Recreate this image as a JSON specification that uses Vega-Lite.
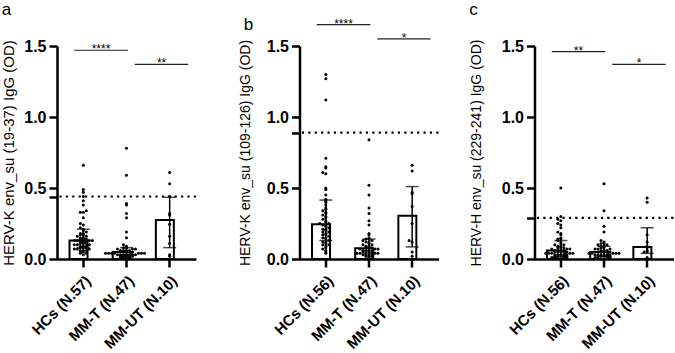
{
  "$schema": "https://vega.github.io/schema/vega-lite/v6.json",
  "padding": {"left": 1, "top": 0, "right": 0, "bottom": 0},
  "background": "white",
  "config": {
    "font": "Liberation Sans",
    "view": {"stroke": null},
    "axis": {"domainColor": "black", "domainWidth": 2.5, "tickColor": "black", "tickWidth": 2.5, "tickSize": 8, "labelColor": "black", "labelFont": "Liberation Sans", "labelFontWeight": "bold", "grid": false, "titleColor": "black", "titleFont": "Liberation Sans", "titleFontWeight": "normal"},
    "axisY": {"labelFontSize": 16, "labelPadding": 3, "titleFontSize": 14},
    "axisX": {"labelFontSize": 15, "labelAngle": -45, "labelPadding": 6, "title": null},
    "title": {"font": "Liberation Sans", "fontSize": 17, "fontWeight": "normal", "color": "black", "anchor": "start", "frame": "bounds"}
  },
  "datasets": {
    "summary": [
      {"p": "a", "g": "HCs (N.57)", "median": 0.13, "q1": 0.08, "q3": 0.21},
      {"p": "a", "g": "MM-T (N.47)", "median": 0.05, "q1": 0.03, "q3": 0.08},
      {"p": "a", "g": "MM-UT (N.10)", "median": 0.275, "q1": 0.08, "q3": 0.435},
      {"p": "b", "g": "HCs (N.56)", "median": 0.245, "q1": 0.13, "q3": 0.415},
      {"p": "b", "g": "MM-T (N.47)", "median": 0.075, "q1": 0.04, "q3": 0.14},
      {"p": "b", "g": "MM-UT (N.10)", "median": 0.305, "q1": 0.085, "q3": 0.51},
      {"p": "c", "g": "HCs (N.56)", "median": 0.06, "q1": 0.03, "q3": 0.13},
      {"p": "c", "g": "MM-T (N.47)", "median": 0.05, "q1": 0.02, "q3": 0.09},
      {"p": "c", "g": "MM-UT (N.10)", "median": 0.085, "q1": 0.04, "q3": 0.22}
    ],
    "cutoff": [
      {"p": "a", "t": 0.44},
      {"p": "b", "t": 0.89},
      {"p": "c", "t": 0.29}
    ],
    "sig": [
      {"p": "a", "n": 1, "from": "HCs (N.57)", "to": "MM-T (N.47)", "y": 1.47, "s": "****"},
      {"p": "a", "n": 2, "from": "MM-T (N.47)", "to": "MM-UT (N.10)", "y": 1.37, "s": "**"},
      {"p": "b", "n": 1, "from": "HCs (N.56)", "to": "MM-T (N.47)", "y": 1.65, "s": "****"},
      {"p": "b", "n": 2, "from": "MM-T (N.47)", "to": "MM-UT (N.10)", "y": 1.55, "s": "*"},
      {"p": "c", "n": 1, "from": "HCs (N.56)", "to": "MM-T (N.47)", "y": 1.46, "s": "**"},
      {"p": "c", "n": 2, "from": "MM-T (N.47)", "to": "MM-UT (N.10)", "y": 1.37, "s": "*"}
    ],
    "pts": [
      {"p":"a","g":"HCs (N.57)","v":0.66},{"p":"a","g":"HCs (N.57)","v":0.49},{"p":"a","g":"HCs (N.57)","v":0.47},{"p":"a","g":"HCs (N.57)","v":0.44},{"p":"a","g":"HCs (N.57)","v":0.41},{"p":"a","g":"HCs (N.57)","v":0.38},{"p":"a","g":"HCs (N.57)","v":0.34},{"p":"a","g":"HCs (N.57)","v":0.33},{"p":"a","g":"HCs (N.57)","v":0.33},{"p":"a","g":"HCs (N.57)","v":0.29},
      {"p":"a","g":"HCs (N.57)","v":0.25},{"p":"a","g":"HCs (N.57)","v":0.24},{"p":"a","g":"HCs (N.57)","v":0.22},{"p":"a","g":"HCs (N.57)","v":0.21},{"p":"a","g":"HCs (N.57)","v":0.20},{"p":"a","g":"HCs (N.57)","v":0.19},{"p":"a","g":"HCs (N.57)","v":0.18},{"p":"a","g":"HCs (N.57)","v":0.18},{"p":"a","g":"HCs (N.57)","v":0.17},{"p":"a","g":"HCs (N.57)","v":0.17},
      {"p":"a","g":"HCs (N.57)","v":0.16},{"p":"a","g":"HCs (N.57)","v":0.16},{"p":"a","g":"HCs (N.57)","v":0.15},{"p":"a","g":"HCs (N.57)","v":0.15},{"p":"a","g":"HCs (N.57)","v":0.14},{"p":"a","g":"HCs (N.57)","v":0.14},{"p":"a","g":"HCs (N.57)","v":0.14},{"p":"a","g":"HCs (N.57)","v":0.13},{"p":"a","g":"HCs (N.57)","v":0.13},{"p":"a","g":"HCs (N.57)","v":0.13},
      {"p":"a","g":"HCs (N.57)","v":0.13},{"p":"a","g":"HCs (N.57)","v":0.12},{"p":"a","g":"HCs (N.57)","v":0.12},{"p":"a","g":"HCs (N.57)","v":0.12},{"p":"a","g":"HCs (N.57)","v":0.11},{"p":"a","g":"HCs (N.57)","v":0.11},{"p":"a","g":"HCs (N.57)","v":0.11},{"p":"a","g":"HCs (N.57)","v":0.10},{"p":"a","g":"HCs (N.57)","v":0.10},{"p":"a","g":"HCs (N.57)","v":0.10},
      {"p":"a","g":"HCs (N.57)","v":0.09},{"p":"a","g":"HCs (N.57)","v":0.09},{"p":"a","g":"HCs (N.57)","v":0.09},{"p":"a","g":"HCs (N.57)","v":0.08},{"p":"a","g":"HCs (N.57)","v":0.08},{"p":"a","g":"HCs (N.57)","v":0.08},{"p":"a","g":"HCs (N.57)","v":0.07},{"p":"a","g":"HCs (N.57)","v":0.07},{"p":"a","g":"HCs (N.57)","v":0.07},{"p":"a","g":"HCs (N.57)","v":0.06},
      {"p":"a","g":"HCs (N.57)","v":0.06},{"p":"a","g":"HCs (N.57)","v":0.06},{"p":"a","g":"HCs (N.57)","v":0.05},{"p":"a","g":"HCs (N.57)","v":0.05},{"p":"a","g":"HCs (N.57)","v":0.04},{"p":"a","g":"HCs (N.57)","v":0.04},{"p":"a","g":"HCs (N.57)","v":0.03},

      {"p":"a","g":"MM-T (N.47)","v":0.78},{"p":"a","g":"MM-T (N.47)","v":0.59},{"p":"a","g":"MM-T (N.47)","v":0.39},{"p":"a","g":"MM-T (N.47)","v":0.38},{"p":"a","g":"MM-T (N.47)","v":0.32},{"p":"a","g":"MM-T (N.47)","v":0.29},{"p":"a","g":"MM-T (N.47)","v":0.19},{"p":"a","g":"MM-T (N.47)","v":0.15},{"p":"a","g":"MM-T (N.47)","v":0.10},{"p":"a","g":"MM-T (N.47)","v":0.09},
      {"p":"a","g":"MM-T (N.47)","v":0.08},{"p":"a","g":"MM-T (N.47)","v":0.08},{"p":"a","g":"MM-T (N.47)","v":0.07},{"p":"a","g":"MM-T (N.47)","v":0.07},{"p":"a","g":"MM-T (N.47)","v":0.07},{"p":"a","g":"MM-T (N.47)","v":0.06},{"p":"a","g":"MM-T (N.47)","v":0.06},{"p":"a","g":"MM-T (N.47)","v":0.06},{"p":"a","g":"MM-T (N.47)","v":0.06},{"p":"a","g":"MM-T (N.47)","v":0.05},
      {"p":"a","g":"MM-T (N.47)","v":0.05},{"p":"a","g":"MM-T (N.47)","v":0.05},{"p":"a","g":"MM-T (N.47)","v":0.05},{"p":"a","g":"MM-T (N.47)","v":0.05},{"p":"a","g":"MM-T (N.47)","v":0.04},{"p":"a","g":"MM-T (N.47)","v":0.04},{"p":"a","g":"MM-T (N.47)","v":0.04},{"p":"a","g":"MM-T (N.47)","v":0.04},{"p":"a","g":"MM-T (N.47)","v":0.04},{"p":"a","g":"MM-T (N.47)","v":0.04},
      {"p":"a","g":"MM-T (N.47)","v":0.04},{"p":"a","g":"MM-T (N.47)","v":0.03},{"p":"a","g":"MM-T (N.47)","v":0.03},{"p":"a","g":"MM-T (N.47)","v":0.03},{"p":"a","g":"MM-T (N.47)","v":0.03},{"p":"a","g":"MM-T (N.47)","v":0.03},{"p":"a","g":"MM-T (N.47)","v":0.03},{"p":"a","g":"MM-T (N.47)","v":0.03},{"p":"a","g":"MM-T (N.47)","v":0.02},{"p":"a","g":"MM-T (N.47)","v":0.02},
      {"p":"a","g":"MM-T (N.47)","v":0.02},{"p":"a","g":"MM-T (N.47)","v":0.02},{"p":"a","g":"MM-T (N.47)","v":0.02},{"p":"a","g":"MM-T (N.47)","v":0.01},{"p":"a","g":"MM-T (N.47)","v":0.01},{"p":"a","g":"MM-T (N.47)","v":0.01},{"p":"a","g":"MM-T (N.47)","v":0.01},

      {"p":"a","g":"MM-UT (N.10)","v":0.61},{"p":"a","g":"MM-UT (N.10)","v":0.53},{"p":"a","g":"MM-UT (N.10)","v":0.44},{"p":"a","g":"MM-UT (N.10)","v":0.32},{"p":"a","g":"MM-UT (N.10)","v":0.31},{"p":"a","g":"MM-UT (N.10)","v":0.245},{"p":"a","g":"MM-UT (N.10)","v":0.16},{"p":"a","g":"MM-UT (N.10)","v":0.11},{"p":"a","g":"MM-UT (N.10)","v":0.03},{"p":"a","g":"MM-UT (N.10)","v":0.02},

      {"p":"b","g":"HCs (N.56)","v":1.30},{"p":"b","g":"HCs (N.56)","v":1.27},{"p":"b","g":"HCs (N.56)","v":1.12},{"p":"b","g":"HCs (N.56)","v":0.45},{"p":"b","g":"HCs (N.56)","v":0.71},{"p":"b","g":"HCs (N.56)","v":0.65},{"p":"b","g":"HCs (N.56)","v":0.64},{"p":"b","g":"HCs (N.56)","v":0.61},{"p":"b","g":"HCs (N.56)","v":0.60},{"p":"b","g":"HCs (N.56)","v":0.50},
      {"p":"b","g":"HCs (N.56)","v":0.49},{"p":"b","g":"HCs (N.56)","v":0.42},{"p":"b","g":"HCs (N.56)","v":0.41},{"p":"b","g":"HCs (N.56)","v":0.40},{"p":"b","g":"HCs (N.56)","v":0.38},{"p":"b","g":"HCs (N.56)","v":0.36},{"p":"b","g":"HCs (N.56)","v":0.35},{"p":"b","g":"HCs (N.56)","v":0.34},{"p":"b","g":"HCs (N.56)","v":0.33},{"p":"b","g":"HCs (N.56)","v":0.32},
      {"p":"b","g":"HCs (N.56)","v":0.31},{"p":"b","g":"HCs (N.56)","v":0.30},{"p":"b","g":"HCs (N.56)","v":0.29},{"p":"b","g":"HCs (N.56)","v":0.28},{"p":"b","g":"HCs (N.56)","v":0.27},{"p":"b","g":"HCs (N.56)","v":0.26},{"p":"b","g":"HCs (N.56)","v":0.25},{"p":"b","g":"HCs (N.56)","v":0.25},{"p":"b","g":"HCs (N.56)","v":0.24},{"p":"b","g":"HCs (N.56)","v":0.24},
      {"p":"b","g":"HCs (N.56)","v":0.23},{"p":"b","g":"HCs (N.56)","v":0.22},{"p":"b","g":"HCs (N.56)","v":0.21},{"p":"b","g":"HCs (N.56)","v":0.21},{"p":"b","g":"HCs (N.56)","v":0.20},{"p":"b","g":"HCs (N.56)","v":0.19},{"p":"b","g":"HCs (N.56)","v":0.19},{"p":"b","g":"HCs (N.56)","v":0.18},{"p":"b","g":"HCs (N.56)","v":0.17},{"p":"b","g":"HCs (N.56)","v":0.17},
      {"p":"b","g":"HCs (N.56)","v":0.16},{"p":"b","g":"HCs (N.56)","v":0.15},{"p":"b","g":"HCs (N.56)","v":0.15},{"p":"b","g":"HCs (N.56)","v":0.14},{"p":"b","g":"HCs (N.56)","v":0.13},{"p":"b","g":"HCs (N.56)","v":0.12},{"p":"b","g":"HCs (N.56)","v":0.12},{"p":"b","g":"HCs (N.56)","v":0.11},{"p":"b","g":"HCs (N.56)","v":0.10},{"p":"b","g":"HCs (N.56)","v":0.10},
      {"p":"b","g":"HCs (N.56)","v":0.09},{"p":"b","g":"HCs (N.56)","v":0.08},{"p":"b","g":"HCs (N.56)","v":0.07},{"p":"b","g":"HCs (N.56)","v":0.06},{"p":"b","g":"HCs (N.56)","v":0.05},{"p":"b","g":"HCs (N.56)","v":0.04},

      {"p":"b","g":"MM-T (N.47)","v":0.84},{"p":"b","g":"MM-T (N.47)","v":0.52},{"p":"b","g":"MM-T (N.47)","v":0.45},{"p":"b","g":"MM-T (N.47)","v":0.36},{"p":"b","g":"MM-T (N.47)","v":0.32},{"p":"b","g":"MM-T (N.47)","v":0.27},{"p":"b","g":"MM-T (N.47)","v":0.24},{"p":"b","g":"MM-T (N.47)","v":0.18},{"p":"b","g":"MM-T (N.47)","v":0.17},{"p":"b","g":"MM-T (N.47)","v":0.15},
      {"p":"b","g":"MM-T (N.47)","v":0.14},{"p":"b","g":"MM-T (N.47)","v":0.14},{"p":"b","g":"MM-T (N.47)","v":0.13},{"p":"b","g":"MM-T (N.47)","v":0.13},{"p":"b","g":"MM-T (N.47)","v":0.12},{"p":"b","g":"MM-T (N.47)","v":0.12},{"p":"b","g":"MM-T (N.47)","v":0.11},{"p":"b","g":"MM-T (N.47)","v":0.10},{"p":"b","g":"MM-T (N.47)","v":0.10},{"p":"b","g":"MM-T (N.47)","v":0.09},
      {"p":"b","g":"MM-T (N.47)","v":0.09},{"p":"b","g":"MM-T (N.47)","v":0.08},{"p":"b","g":"MM-T (N.47)","v":0.08},{"p":"b","g":"MM-T (N.47)","v":0.08},{"p":"b","g":"MM-T (N.47)","v":0.07},{"p":"b","g":"MM-T (N.47)","v":0.07},{"p":"b","g":"MM-T (N.47)","v":0.07},{"p":"b","g":"MM-T (N.47)","v":0.06},{"p":"b","g":"MM-T (N.47)","v":0.06},{"p":"b","g":"MM-T (N.47)","v":0.06},
      {"p":"b","g":"MM-T (N.47)","v":0.06},{"p":"b","g":"MM-T (N.47)","v":0.05},{"p":"b","g":"MM-T (N.47)","v":0.05},{"p":"b","g":"MM-T (N.47)","v":0.05},{"p":"b","g":"MM-T (N.47)","v":0.05},{"p":"b","g":"MM-T (N.47)","v":0.04},{"p":"b","g":"MM-T (N.47)","v":0.04},{"p":"b","g":"MM-T (N.47)","v":0.04},{"p":"b","g":"MM-T (N.47)","v":0.04},{"p":"b","g":"MM-T (N.47)","v":0.03},
      {"p":"b","g":"MM-T (N.47)","v":0.03},{"p":"b","g":"MM-T (N.47)","v":0.03},{"p":"b","g":"MM-T (N.47)","v":0.03},{"p":"b","g":"MM-T (N.47)","v":0.02},{"p":"b","g":"MM-T (N.47)","v":0.02},{"p":"b","g":"MM-T (N.47)","v":0.02},{"p":"b","g":"MM-T (N.47)","v":0.01},

      {"p":"b","g":"MM-UT (N.10)","v":0.66},{"p":"b","g":"MM-UT (N.10)","v":0.62},{"p":"b","g":"MM-UT (N.10)","v":0.47},{"p":"b","g":"MM-UT (N.10)","v":0.46},{"p":"b","g":"MM-UT (N.10)","v":0.37},{"p":"b","g":"MM-UT (N.10)","v":0.25},{"p":"b","g":"MM-UT (N.10)","v":0.13},{"p":"b","g":"MM-UT (N.10)","v":0.12},{"p":"b","g":"MM-UT (N.10)","v":0.05},{"p":"b","g":"MM-UT (N.10)","v":0.02},

      {"p":"c","g":"HCs (N.56)","v":0.50},{"p":"c","g":"HCs (N.56)","v":0.30},{"p":"c","g":"HCs (N.56)","v":0.28},{"p":"c","g":"HCs (N.56)","v":0.27},{"p":"c","g":"HCs (N.56)","v":0.25},{"p":"c","g":"HCs (N.56)","v":0.24},{"p":"c","g":"HCs (N.56)","v":0.22},{"p":"c","g":"HCs (N.56)","v":0.19},{"p":"c","g":"HCs (N.56)","v":0.18},{"p":"c","g":"HCs (N.56)","v":0.17},
      {"p":"c","g":"HCs (N.56)","v":0.15},{"p":"c","g":"HCs (N.56)","v":0.14},{"p":"c","g":"HCs (N.56)","v":0.14},{"p":"c","g":"HCs (N.56)","v":0.13},{"p":"c","g":"HCs (N.56)","v":0.12},{"p":"c","g":"HCs (N.56)","v":0.11},{"p":"c","g":"HCs (N.56)","v":0.10},{"p":"c","g":"HCs (N.56)","v":0.10},{"p":"c","g":"HCs (N.56)","v":0.09},{"p":"c","g":"HCs (N.56)","v":0.09},
      {"p":"c","g":"HCs (N.56)","v":0.08},{"p":"c","g":"HCs (N.56)","v":0.08},{"p":"c","g":"HCs (N.56)","v":0.08},{"p":"c","g":"HCs (N.56)","v":0.07},{"p":"c","g":"HCs (N.56)","v":0.07},{"p":"c","g":"HCs (N.56)","v":0.07},{"p":"c","g":"HCs (N.56)","v":0.06},{"p":"c","g":"HCs (N.56)","v":0.06},{"p":"c","g":"HCs (N.56)","v":0.06},{"p":"c","g":"HCs (N.56)","v":0.06},
      {"p":"c","g":"HCs (N.56)","v":0.05},{"p":"c","g":"HCs (N.56)","v":0.05},{"p":"c","g":"HCs (N.56)","v":0.05},{"p":"c","g":"HCs (N.56)","v":0.05},{"p":"c","g":"HCs (N.56)","v":0.05},{"p":"c","g":"HCs (N.56)","v":0.04},{"p":"c","g":"HCs (N.56)","v":0.04},{"p":"c","g":"HCs (N.56)","v":0.04},{"p":"c","g":"HCs (N.56)","v":0.04},{"p":"c","g":"HCs (N.56)","v":0.04},
      {"p":"c","g":"HCs (N.56)","v":0.03},{"p":"c","g":"HCs (N.56)","v":0.03},{"p":"c","g":"HCs (N.56)","v":0.03},{"p":"c","g":"HCs (N.56)","v":0.03},{"p":"c","g":"HCs (N.56)","v":0.03},{"p":"c","g":"HCs (N.56)","v":0.02},{"p":"c","g":"HCs (N.56)","v":0.02},{"p":"c","g":"HCs (N.56)","v":0.02},{"p":"c","g":"HCs (N.56)","v":0.02},{"p":"c","g":"HCs (N.56)","v":0.02},
      {"p":"c","g":"HCs (N.56)","v":0.01},{"p":"c","g":"HCs (N.56)","v":0.01},{"p":"c","g":"HCs (N.56)","v":0.01},{"p":"c","g":"HCs (N.56)","v":0.01},{"p":"c","g":"HCs (N.56)","v":0.01},{"p":"c","g":"HCs (N.56)","v":0.00},

      {"p":"c","g":"MM-T (N.47)","v":0.53},{"p":"c","g":"MM-T (N.47)","v":0.34},{"p":"c","g":"MM-T (N.47)","v":0.23},{"p":"c","g":"MM-T (N.47)","v":0.19},{"p":"c","g":"MM-T (N.47)","v":0.13},{"p":"c","g":"MM-T (N.47)","v":0.12},{"p":"c","g":"MM-T (N.47)","v":0.11},{"p":"c","g":"MM-T (N.47)","v":0.11},{"p":"c","g":"MM-T (N.47)","v":0.10},{"p":"c","g":"MM-T (N.47)","v":0.10},
      {"p":"c","g":"MM-T (N.47)","v":0.09},{"p":"c","g":"MM-T (N.47)","v":0.09},{"p":"c","g":"MM-T (N.47)","v":0.08},{"p":"c","g":"MM-T (N.47)","v":0.08},{"p":"c","g":"MM-T (N.47)","v":0.07},{"p":"c","g":"MM-T (N.47)","v":0.07},{"p":"c","g":"MM-T (N.47)","v":0.07},{"p":"c","g":"MM-T (N.47)","v":0.06},{"p":"c","g":"MM-T (N.47)","v":0.06},{"p":"c","g":"MM-T (N.47)","v":0.06},
      {"p":"c","g":"MM-T (N.47)","v":0.05},{"p":"c","g":"MM-T (N.47)","v":0.05},{"p":"c","g":"MM-T (N.47)","v":0.05},{"p":"c","g":"MM-T (N.47)","v":0.05},{"p":"c","g":"MM-T (N.47)","v":0.05},{"p":"c","g":"MM-T (N.47)","v":0.04},{"p":"c","g":"MM-T (N.47)","v":0.04},{"p":"c","g":"MM-T (N.47)","v":0.04},{"p":"c","g":"MM-T (N.47)","v":0.04},{"p":"c","g":"MM-T (N.47)","v":0.04},
      {"p":"c","g":"MM-T (N.47)","v":0.03},{"p":"c","g":"MM-T (N.47)","v":0.03},{"p":"c","g":"MM-T (N.47)","v":0.03},{"p":"c","g":"MM-T (N.47)","v":0.03},{"p":"c","g":"MM-T (N.47)","v":0.03},{"p":"c","g":"MM-T (N.47)","v":0.03},{"p":"c","g":"MM-T (N.47)","v":0.02},{"p":"c","g":"MM-T (N.47)","v":0.02},{"p":"c","g":"MM-T (N.47)","v":0.02},{"p":"c","g":"MM-T (N.47)","v":0.02},
      {"p":"c","g":"MM-T (N.47)","v":0.02},{"p":"c","g":"MM-T (N.47)","v":0.01},{"p":"c","g":"MM-T (N.47)","v":0.01},{"p":"c","g":"MM-T (N.47)","v":0.01},{"p":"c","g":"MM-T (N.47)","v":0.01},{"p":"c","g":"MM-T (N.47)","v":0.00},{"p":"c","g":"MM-T (N.47)","v":0.00},

      {"p":"c","g":"MM-UT (N.10)","v":0.43},{"p":"c","g":"MM-UT (N.10)","v":0.40},{"p":"c","g":"MM-UT (N.10)","v":0.17},{"p":"c","g":"MM-UT (N.10)","v":0.12},{"p":"c","g":"MM-UT (N.10)","v":0.09},{"p":"c","g":"MM-UT (N.10)","v":0.08},{"p":"c","g":"MM-UT (N.10)","v":0.06},{"p":"c","g":"MM-UT (N.10)","v":0.05},{"p":"c","g":"MM-UT (N.10)","v":0.05},{"p":"c","g":"MM-UT (N.10)","v":0.01}
    ]
  },
  "spacing": 40.5,
  "hconcat": [
    {
      "width": 139, "height": 213,
      "title": {"text": "a", "offset": 19.5},
      "layer": [
        {
          "data": {"name": "summary"},
          "transform": [{"filter": "datum.p === 'a'"}],
          "mark": {"type": "bar", "fill": "white", "stroke": "black", "strokeWidth": 2},
          "encoding": {
            "x": {"field": "g", "type": "nominal", "scale": {"domain": ["HCs (N.57)", "MM-T (N.47)", "MM-UT (N.10)"], "paddingInner": 0.36, "paddingOuter": 0.29}},
            "y": {"field": "median", "type": "quantitative", "scale": {"domain": [0, 1.5], "nice": false},
                  "axis": {"title": "HERV-K env_su (19-37) IgG (OD)", "titleFontSize": 15, "titlePadding": 7, "values": [0, 0.44, 0.5, 1, 1.5], "labelExpr": "datum.value === 0.44 ? '' : format(datum.value, '.1f')"}}
          }
        },
        {
          "data": {"name": "pts"},
          "transform": [
            {"filter": "datum.p === 'a'"},
            {"bin": {"step": 0.015, "extent": [0, 1.5]}, "field": "v", "as": "vb"},
            {"window": [{"op": "row_number", "as": "k"}], "groupby": ["g", "vb"], "sort": [{"field": "v"}]},
            {"calculate": "(datum.k % 2 === 0 ? -1 : 1) * floor(datum.k / 2)", "as": "lane"}
          ],
          "mark": {"type": "circle", "size": 9, "color": "black", "opacity": 1},
          "encoding": {
            "x": {"field": "g", "type": "nominal"},
            "xOffset": {"field": "lane", "type": "quantitative", "scale": {"domain": [-5, 5], "range": [-1.2, 28.8]}},
            "y": {"field": "v", "type": "quantitative"}
          }
        },
        {
          "data": {"name": "summary"},
          "transform": [{"filter": "datum.p === 'a'"}],
          "mark": {"type": "rule", "color": "black", "strokeWidth": 1.5},
          "encoding": {"x": {"field": "g", "type": "nominal"}, "y": {"field": "q1", "type": "quantitative"}, "y2": {"field": "q3"}}
        },
        {
          "data": {"name": "summary"},
          "transform": [{"filter": "datum.p === 'a'"}, {"fold": ["q1", "q3"], "as": ["k", "val"]}],
          "mark": {"type": "tick", "color": "black", "size": 13, "thickness": 1.5, "orient": "horizontal"},
          "encoding": {"x": {"field": "g", "type": "nominal"}, "y": {"field": "val", "type": "quantitative"}}
        },
        {
          "data": {"name": "cutoff"},
          "transform": [{"filter": "datum.p === 'a'"}],
          "mark": {"type": "rule", "color": "black", "strokeWidth": 2.2, "strokeDash": [2.2, 4.2]},
          "encoding": {"y": {"field": "t", "type": "quantitative"}}
        },
        {
          "data": {"name": "sig"},
          "transform": [{"filter": "datum.p === 'a' && datum.n === 1"}],
          "mark": {"type": "rule", "color": "#222", "strokeWidth": 1.2},
          "encoding": {"x": {"field": "from", "type": "nominal", "bandPosition": 0.17}, "x2": {"field": "to", "bandPosition": 0.55}, "y": {"field": "y", "type": "quantitative"}}
        },
        {
          "data": {"name": "sig"},
          "transform": [{"filter": "datum.p === 'a' && datum.n === 2"}],
          "mark": {"type": "rule", "color": "#222", "strokeWidth": 1.2},
          "encoding": {"x": {"field": "from", "type": "nominal", "bandPosition": 0.8}, "x2": {"field": "to", "bandPosition": 1.17}, "y": {"field": "y", "type": "quantitative"}}
        },
        {
          "data": {"name": "sig"},
          "transform": [{"filter": "datum.p === 'a' && datum.n === 1"}],
          "mark": {"type": "text", "fontSize": 12, "baseline": "alphabetic", "dy": 3, "color": "black"},
          "encoding": {"x": {"field": "from", "type": "nominal", "bandPosition": 1.14}, "y": {"field": "y", "type": "quantitative"}, "text": {"field": "s"}}
        },
        {
          "data": {"name": "sig"},
          "transform": [{"filter": "datum.p === 'a' && datum.n === 2"}],
          "mark": {"type": "text", "fontSize": 12, "baseline": "alphabetic", "dy": 3, "color": "black"},
          "encoding": {"x": {"field": "from", "type": "nominal", "bandPosition": 1.77}, "y": {"field": "y", "type": "quantitative"}, "text": {"field": "s"}}
        }
      ]
    },
    {
      "spacing": 28,
      "hconcat": [
        {
          "width": 139, "height": 213,
          "title": {"text": "b", "offset": -16.6, "dx": 5},
          "layer": [
            {
              "data": {"name": "summary"},
              "transform": [{"filter": "datum.p === 'b'"}],
              "mark": {"type": "bar", "fill": "white", "stroke": "black", "strokeWidth": 2},
              "encoding": {
                "x": {"field": "g", "type": "nominal", "scale": {"domain": ["HCs (N.56)", "MM-T (N.47)", "MM-UT (N.10)"], "paddingInner": 0.36, "paddingOuter": 0.29}},
                "y": {"field": "median", "type": "quantitative", "scale": {"domain": [0, 1.5], "nice": false},
                      "axis": {"title": "HERV-K env_su (109-126) IgG (OD)", "titlePadding": 13.5, "values": [0, 0.5, 0.89, 1, 1.5], "labelExpr": "datum.value === 0.89 ? '' : format(datum.value, '.1f')"}}
              }
            },
            {
              "data": {"name": "pts"},
              "transform": [
                {"filter": "datum.p === 'b'"},
                {"bin": {"step": 0.015, "extent": [0, 1.5]}, "field": "v", "as": "vb"},
                {"window": [{"op": "row_number", "as": "k"}], "groupby": ["g", "vb"], "sort": [{"field": "v"}]},
                {"calculate": "(datum.k % 2 === 0 ? -1 : 1) * floor(datum.k / 2)", "as": "lane"}
              ],
              "mark": {"type": "circle", "size": 9, "color": "black", "opacity": 1},
              "encoding": {
                "x": {"field": "g", "type": "nominal"},
                "xOffset": {"field": "lane", "type": "quantitative", "scale": {"domain": [-5, 5], "range": [-1.2, 28.8]}},
                "y": {"field": "v", "type": "quantitative"}
              }
            },
            {
              "data": {"name": "summary"},
              "transform": [{"filter": "datum.p === 'b'"}],
              "mark": {"type": "rule", "color": "black", "strokeWidth": 1.5},
              "encoding": {"x": {"field": "g", "type": "nominal"}, "y": {"field": "q1", "type": "quantitative"}, "y2": {"field": "q3"}}
            },
            {
              "data": {"name": "summary"},
              "transform": [{"filter": "datum.p === 'b'"}, {"fold": ["q1", "q3"], "as": ["k", "val"]}],
              "mark": {"type": "tick", "color": "black", "size": 13, "thickness": 1.5, "orient": "horizontal"},
              "encoding": {"x": {"field": "g", "type": "nominal"}, "y": {"field": "val", "type": "quantitative"}}
            },
            {
              "data": {"name": "cutoff"},
              "transform": [{"filter": "datum.p === 'b'"}],
              "mark": {"type": "rule", "color": "black", "strokeWidth": 2.2, "strokeDash": [2.2, 4.2]},
              "encoding": {"y": {"field": "t", "type": "quantitative"}}
            },
            {
              "data": {"name": "sig"},
              "transform": [{"filter": "datum.p === 'b' && datum.n === 1"}],
              "mark": {"type": "rule", "color": "#222", "strokeWidth": 1.2},
              "encoding": {"x": {"field": "from", "type": "nominal", "bandPosition": 0.17}, "x2": {"field": "to", "bandPosition": 0.55}, "y": {"field": "y", "type": "quantitative"}}
            },
            {
              "data": {"name": "sig"},
              "transform": [{"filter": "datum.p === 'b' && datum.n === 2"}],
              "mark": {"type": "rule", "color": "#222", "strokeWidth": 1.2},
              "encoding": {"x": {"field": "from", "type": "nominal", "bandPosition": 0.8}, "x2": {"field": "to", "bandPosition": 1.17}, "y": {"field": "y", "type": "quantitative"}}
            },
            {
              "data": {"name": "sig"},
              "transform": [{"filter": "datum.p === 'b' && datum.n === 1"}],
              "mark": {"type": "text", "fontSize": 12, "baseline": "alphabetic", "dy": 3, "color": "black"},
              "encoding": {"x": {"field": "from", "type": "nominal", "bandPosition": 1.14}, "y": {"field": "y", "type": "quantitative"}, "text": {"field": "s"}}
            },
            {
              "data": {"name": "sig"},
              "transform": [{"filter": "datum.p === 'b' && datum.n === 2"}],
              "mark": {"type": "text", "fontSize": 12, "baseline": "alphabetic", "dy": 3, "color": "black"},
              "encoding": {"x": {"field": "from", "type": "nominal", "bandPosition": 1.77}, "y": {"field": "y", "type": "quantitative"}, "text": {"field": "s"}}
            }
          ]
        },
        {
          "width": 139, "height": 213,
          "title": {"text": "c", "offset": 19},
          "layer": [
            {
              "data": {"name": "summary"},
              "transform": [{"filter": "datum.p === 'c'"}],
              "mark": {"type": "bar", "fill": "white", "stroke": "black", "strokeWidth": 2},
              "encoding": {
                "x": {"field": "g", "type": "nominal", "scale": {"domain": ["HCs (N.56)", "MM-T (N.47)", "MM-UT (N.10)"], "paddingInner": 0.36, "paddingOuter": 0.29}},
                "y": {"field": "median", "type": "quantitative", "scale": {"domain": [0, 1.5], "nice": false},
                      "axis": {"title": "HERV-H env_su (229-241) IgG (OD)", "titlePadding": 18, "values": [0, 0.29, 0.5, 1, 1.5], "labelExpr": "datum.value === 0.29 ? '' : format(datum.value, '.1f')"}}
              }
            },
            {
              "data": {"name": "pts"},
              "transform": [
                {"filter": "datum.p === 'c'"},
                {"bin": {"step": 0.015, "extent": [0, 1.5]}, "field": "v", "as": "vb"},
                {"window": [{"op": "row_number", "as": "k"}], "groupby": ["g", "vb"], "sort": [{"field": "v"}]},
                {"calculate": "(datum.k % 2 === 0 ? -1 : 1) * floor(datum.k / 2)", "as": "lane"}
              ],
              "mark": {"type": "circle", "size": 9, "color": "black", "opacity": 1},
              "encoding": {
                "x": {"field": "g", "type": "nominal"},
                "xOffset": {"field": "lane", "type": "quantitative", "scale": {"domain": [-5, 5], "range": [-1.2, 28.8]}},
                "y": {"field": "v", "type": "quantitative"}
              }
            },
            {
              "data": {"name": "summary"},
              "transform": [{"filter": "datum.p === 'c'"}],
              "mark": {"type": "rule", "color": "black", "strokeWidth": 1.5},
              "encoding": {"x": {"field": "g", "type": "nominal"}, "y": {"field": "q1", "type": "quantitative"}, "y2": {"field": "q3"}}
            },
            {
              "data": {"name": "summary"},
              "transform": [{"filter": "datum.p === 'c'"}, {"fold": ["q1", "q3"], "as": ["k", "val"]}],
              "mark": {"type": "tick", "color": "black", "size": 13, "thickness": 1.5, "orient": "horizontal"},
              "encoding": {"x": {"field": "g", "type": "nominal"}, "y": {"field": "val", "type": "quantitative"}}
            },
            {
              "data": {"name": "cutoff"},
              "transform": [{"filter": "datum.p === 'c'"}],
              "mark": {"type": "rule", "color": "black", "strokeWidth": 2.2, "strokeDash": [2.2, 4.2]},
              "encoding": {"y": {"field": "t", "type": "quantitative"}}
            },
            {
              "data": {"name": "sig"},
              "transform": [{"filter": "datum.p === 'c' && datum.n === 1"}],
              "mark": {"type": "rule", "color": "#222", "strokeWidth": 1.2},
              "encoding": {"x": {"field": "from", "type": "nominal", "bandPosition": 0.17}, "x2": {"field": "to", "bandPosition": 0.55}, "y": {"field": "y", "type": "quantitative"}}
            },
            {
              "data": {"name": "sig"},
              "transform": [{"filter": "datum.p === 'c' && datum.n === 2"}],
              "mark": {"type": "rule", "color": "#222", "strokeWidth": 1.2},
              "encoding": {"x": {"field": "from", "type": "nominal", "bandPosition": 0.8}, "x2": {"field": "to", "bandPosition": 1.17}, "y": {"field": "y", "type": "quantitative"}}
            },
            {
              "data": {"name": "sig"},
              "transform": [{"filter": "datum.p === 'c' && datum.n === 1"}],
              "mark": {"type": "text", "fontSize": 12, "baseline": "alphabetic", "dy": 3, "color": "black"},
              "encoding": {"x": {"field": "from", "type": "nominal", "bandPosition": 1.14}, "y": {"field": "y", "type": "quantitative"}, "text": {"field": "s"}}
            },
            {
              "data": {"name": "sig"},
              "transform": [{"filter": "datum.p === 'c' && datum.n === 2"}],
              "mark": {"type": "text", "fontSize": 12, "baseline": "alphabetic", "dy": 3, "color": "black"},
              "encoding": {"x": {"field": "from", "type": "nominal", "bandPosition": 1.77}, "y": {"field": "y", "type": "quantitative"}, "text": {"field": "s"}}
            }
          ]
        }
      ]
    }
  ]
}
